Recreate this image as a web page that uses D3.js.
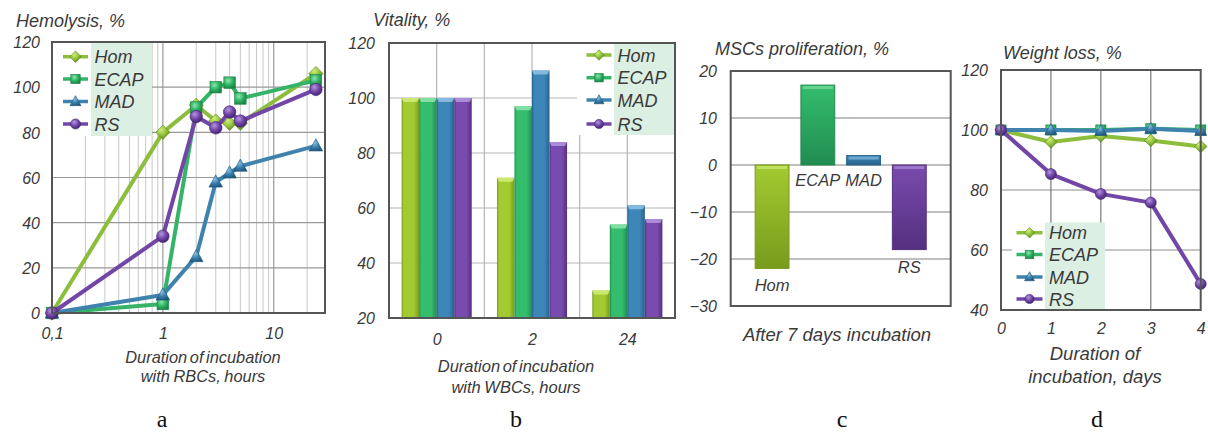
<!DOCTYPE html>
<html><head><meta charset="utf-8">
<script src="https://cdn.jsdelivr.net/npm/d3@7"></script>
<style>
body{margin:0;background:#fff;}
svg{display:block;font-family:"Liberation Sans",Arial,sans-serif;}
</style></head><body>
<svg id="c" width="1208" height="434"></svg>
<script>
// ---------- data ----------
const groups = ["Hom","ECAP","MAD","RS"];
const shapes = ["diamond","square","triangle","circle"];

const hemoHours = [0.1,1,2,3,4,5,24];
const hemoHom  = [0,80,92,85,84,84,106];
const hemoECAP = [0,4,91,100,102,95,103];
const hemoMAD  = [0,8,25,58,62,65,74];
const hemoRS   = [0,34,87,82,89,85,99];
const hemoTicks = [0.1,1,10];
const hemoTickLabels = ["0,1","1","10"];
const hemoYTicks = [0,20,40,60,80,100,120];

const vitCats = ["0","2","24"];
const vitHom  = [100,71,30];
const vitECAP = [100,97,54];
const vitMAD  = [100,110,61];
const vitRS   = [100,84,56];
const vitYTicks = [20,40,60,80,100,120];

const mscValues = [-22,17,2,-18];
const mscYTicks = [-30,-20,-10,0,10,20];

const wlDays = [0,1,2,3,4];
const wlHom  = [100,96,98,96.5,94.5];
const wlECAP = [100,100,100,100.4,100];
const wlMAD  = [100,100,99.7,100.4,99.7];
const wlRS   = [100,85.3,78.7,75.8,48.7];
const wlYTicks = [40,60,80,100,120];

// ---------- styles ----------
const col = {
  Hom:  {line:"#8cbd3c", base:"#8fc23a", light:"#d2ee7c", dark:"#5d8a1c", bar:"#a3cb31", barDark:"#789b1c"},
  ECAP: {line:"#35b468", base:"#2fb464", light:"#8ee6ad", dark:"#1c8446", bar:"#34bd6d", barDark:"#218c50"},
  MAD:  {line:"#3e82ad", base:"#3a80ae", light:"#8fc3e6", dark:"#22577c", bar:"#3c87b8", barDark:"#28628c"},
  RS:   {line:"#7146a6", base:"#6f45a5", light:"#b495e0", dark:"#452471", bar:"#7a4bae", barDark:"#54307f"}
};
const textCol = "#3a3a3a";
const legendBg = "#dcefe3";

const svg = d3.select("#c");
svg.append("rect").attr("width",1208).attr("height",434).attr("fill","#fff");
const defs = svg.append("defs");
groups.forEach(g=>{
  const c = col[g];
  const rg = defs.append("radialGradient").attr("id","m"+g).attr("cx","38%").attr("cy","32%").attr("r","70%");
  rg.append("stop").attr("offset","0%").attr("stop-color",c.light);
  rg.append("stop").attr("offset","55%").attr("stop-color",c.base);
  rg.append("stop").attr("offset","100%").attr("stop-color",c.dark);
  const lg = defs.append("linearGradient").attr("id","b"+g).attr("x1","0").attr("x2","1").attr("y1","0").attr("y2","0");
  lg.append("stop").attr("offset","0%").attr("stop-color",c.barDark);
  lg.append("stop").attr("offset","12%").attr("stop-color",c.bar);
  lg.append("stop").attr("offset","70%").attr("stop-color",c.bar);
  lg.append("stop").attr("offset","100%").attr("stop-color",c.barDark);
  const vg = defs.append("linearGradient").attr("id","v"+g).attr("x1","0").attr("x2","0").attr("y1","0").attr("y2","1");
  vg.append("stop").attr("offset","0%").attr("stop-color",c.bar);
  vg.append("stop").attr("offset","100%").attr("stop-color",c.barDark);
});

function marker(sel, shape, cx, cy, s, g){
  const c = col[g];
  let el;
  if(shape==="diamond"){
    el = sel.append("path").attr("d",`M${cx},${cy-s*1.05}L${cx+s*1.05},${cy}L${cx},${cy+s*1.05}L${cx-s*1.05},${cy}Z`);
  } else if(shape==="square"){
    el = sel.append("rect").attr("x",cx-s*0.85).attr("y",cy-s*0.85).attr("width",s*1.7).attr("height",s*1.7);
  } else if(shape==="triangle"){
    el = sel.append("path").attr("d",`M${cx},${cy-s*1.05}L${cx+s},${cy+s*0.75}L${cx-s},${cy+s*0.75}Z`);
  } else {
    el = sel.append("circle").attr("cx",cx).attr("cy",cy).attr("r",s*0.92);
  }
  el.attr("fill",`url(#m${g})`).attr("stroke",c.dark).attr("stroke-width",0.6);
}

function yAxis(scale, ticks, xRight, fs){
  const g = svg.append("g").attr("transform",`translate(${xRight},0)`)
    .call(d3.axisLeft(scale).tickValues(ticks).tickSize(0).tickPadding(0));
  g.select(".domain").remove();
  g.selectAll("text").attr("font-size",fs).attr("font-style","italic").attr("fill",textCol)
    .attr("font-family","Liberation Sans, Arial, sans-serif");
  return g;
}
function xAxis(scale, ticks, labels, yBase, fs){
  const g = svg.append("g").attr("transform",`translate(0,${yBase})`)
    .call(d3.axisBottom(scale).tickValues(ticks).tickSize(0).tickPadding(0)
      .tickFormat((d,i)=>labels?labels[i]:d));
  g.select(".domain").remove();
  g.selectAll("text").attr("font-size",fs).attr("font-style","italic").attr("fill",textCol)
    .attr("dy","0").attr("font-family","Liberation Sans, Arial, sans-serif");
  return g;
}
function txt(x,y,s,fs,anchor,opts={}){
  const t = svg.append("text").attr("x",x).attr("y",y).text(s).attr("font-size",fs)
    .attr("text-anchor",anchor||"start").attr("fill",opts.fill||textCol);
  if(!opts.serif) t.attr("font-style","italic"); else t.attr("font-family","Liberation Serif, Times New Roman, serif").attr("fill","#111");
  if(opts.ws!==undefined) t.attr("word-spacing",opts.ws);
  return t;
}
function legend(x0, x1, yTop, yBot, symX0, symX1, textX, ys, ms, fs, whiteFrom){
  if(whiteFrom!==undefined) svg.append("rect").attr("x",whiteFrom).attr("y",yTop).attr("width",x0-whiteFrom).attr("height",yBot-yTop).attr("fill","#fff");
  svg.append("rect").attr("x",x0).attr("y",yTop).attr("width",x1-x0).attr("height",yBot-yTop).attr("fill",legendBg);
  const lg = svg.append("g");
  groups.forEach((g,i)=>{
    lg.append("line").attr("x1",symX0).attr("x2",symX1).attr("y1",ys[i]).attr("y2",ys[i])
      .attr("stroke",col[g].line).attr("stroke-width",3.5);
    marker(lg, shapes[i], (symX0+symX1)/2, ys[i], ms, g);
    txt(textX, ys[i]+6.5, g, fs, "start");
  });
}

// ================= Panel a =================
{
  const L=52,R=325,T=42,B=313;
  const x = d3.scaleLog().domain([0.1,29]).range([L,R]);
  const y = d3.scaleLinear().domain([0,120]).range([B,T]);
  const gg = svg.append("g");
  const minors = [0.2,0.3,0.4,0.5,0.6,0.7,0.8,0.9,2,3,4,5,6,7,8,9,20];
  gg.selectAll(".mn").data(minors).join("line").attr("x1",d=>x(d)).attr("x2",d=>x(d)).attr("y1",T).attr("y2",B)
    .attr("stroke","#c8c8c8").attr("stroke-width",1);
  gg.selectAll(".mj").data([1,10]).join("line").attr("x1",d=>x(d)).attr("x2",d=>x(d)).attr("y1",T).attr("y2",B)
    .attr("stroke","#999").attr("stroke-width",1.2);
  gg.selectAll(".hz").data([20,40,60,80,100]).join("line").attr("x1",L).attr("x2",R).attr("y1",d=>y(d)).attr("y2",d=>y(d))
    .attr("stroke","#999").attr("stroke-width",1.2);
  legend(91,152,T,136,63,88,94.5,[56.7,79,101.5,124],5.5,18,L);
  const series = [hemoHom,hemoECAP,hemoMAD,hemoRS];
  const line = d3.line().x(d=>x(d[0])).y(d=>y(d[1]));
  series.forEach((s,i)=>{
    const g = groups[i];
    const pts = hemoHours.map((h,j)=>[h,s[j]]);
    svg.append("path").attr("d",line(pts)).attr("fill","none").attr("stroke",col[g].line)
      .attr("stroke-width",4).attr("stroke-linejoin","round");
    const mg = svg.append("g");
    pts.forEach(p=>marker(mg, shapes[i], x(p[0]), y(p[1]), 6.8, g));
  });
  svg.append("rect").attr("x",L).attr("y",T).attr("width",R-L).attr("height",B-T).attr("fill","none")
    .attr("stroke","#555").attr("stroke-width",2);
  yAxis(y, hemoYTicks, 40, 16).selectAll("text").attr("dy","0.36em");
  xAxis(x, hemoTicks, hemoTickLabels, 339, 16);
  txt(16,27,"Hemolysis, %",18,"start");
  txt(203,363,"Duration of incubation",16.4,"middle",{ws:-2});
  txt(203,382,"with RBCs, hours",16.4,"middle",{ws:-1});
  txt(162,427,"a",24,"middle",{serif:true});
}

// ================= Panel b =================
{
  const L=389,R=675,T=43,B=318;
  const x0 = d3.scaleBand().domain(vitCats).range([L,R]);
  const x1 = d3.scaleBand().domain(groups).range([0,x0.bandwidth()]).paddingOuter(0.72);
  const y = d3.scaleLinear().domain([20,120]).range([B,T]);
  const vx = [];
  vitCats.forEach(c=>{vx.push(x0(c)+x0.bandwidth()/2); vx.push(x0(c)+x0.bandwidth());});
  svg.selectAll(".bv").data(vx).join("line").attr("x1",d=>d).attr("x2",d=>d).attr("y1",T).attr("y2",B)
    .attr("stroke","#b5b5b5").attr("stroke-width",1.2);
  svg.selectAll(".bh").data([40,60,80,100]).join("line").attr("x1",L).attr("x2",R).attr("y1",d=>y(d)).attr("y2",d=>y(d))
    .attr("stroke","#b5b5b5").attr("stroke-width",1.2);
  const series = [vitHom,vitECAP,vitMAD,vitRS];
  series.forEach((s,i)=>{
    const g = groups[i];
    vitCats.forEach((c,j)=>{
      const bx = x0(c)+x1(g), bw = x1.bandwidth(), top = y(s[j]);
      svg.append("rect").attr("x",bx).attr("y",top).attr("width",bw).attr("height",B-top)
        .attr("fill",`url(#b${g})`);
      svg.append("path").attr("d",`M${bx},${top}L${bx+bw},${top}L${bx+bw-2},${top+4}L${bx+2},${top+4}Z`)
        .attr("fill",col[g].light).attr("opacity",0.85);
    });
  });
  legend(614,675,T,135,586.5,611.5,617.5,[55,77.7,100,124],5,18,577);
  svg.append("rect").attr("x",L).attr("y",T).attr("width",R-L).attr("height",B-T).attr("fill","none")
    .attr("stroke","#555").attr("stroke-width",2);
  yAxis(y, vitYTicks, 375, 16).selectAll("text").attr("dy","0.36em");
  const xc = d3.scalePoint().domain(vitCats).range([x0("0")+x0.bandwidth()/2, x0("24")+x0.bandwidth()/2]);
  xAxis(xc, vitCats, null, 345, 16);
  txt(373,26,"Vitality, %",18,"start");
  txt(516,372,"Duration of incubation",16.5,"middle",{ws:-2});
  txt(516,393,"with WBCs, hours",16.5,"middle",{ws:-1});
  txt(516,427,"b",24,"middle",{serif:true});
}

// ================= Panel c =================
{
  const L=730.7,R=950.7,T=71,B=306;
  const x = d3.scaleBand().domain(groups).range([L,R]).paddingInner(0.26).paddingOuter(0.535);
  const y = d3.scaleLinear().domain([-30,20]).range([B,T]);
  svg.selectAll(".ch").data([-20,-10,0,10]).join("line").attr("x1",L).attr("x2",R).attr("y1",d=>y(d)).attr("y2",d=>y(d))
    .attr("stroke","#aaa").attr("stroke-width",1.3);
  groups.forEach((g,i)=>{
    const v = mscValues[i];
    const y0 = y(Math.max(0,v)), y1 = y(Math.min(0,v));
    svg.append("rect").attr("x",x(g)).attr("y",y0).attr("width",x.bandwidth()).attr("height",y1-y0)
      .attr("fill",`url(#v${g})`).attr("stroke",col[g].barDark).attr("stroke-width",1);
    svg.append("rect").attr("x",x(g)+2).attr("y",y0+1).attr("width",x.bandwidth()-4).attr("height",3)
      .attr("fill",col[g].light).attr("opacity",0.6);
  });
  svg.append("rect").attr("x",L).attr("y",T).attr("width",R-L).attr("height",B-T).attr("fill","none")
    .attr("stroke","#555").attr("stroke-width",2);
  yAxis(y, mscYTicks, 717, 16).selectAll("text").attr("dy","0.36em");
  groups.forEach((g,i)=>{
    const v = mscValues[i];
    const cx = x(g)+x.bandwidth()/2;
    const ly = v>=0 ? y(0)+21 : y(v)+23;
    txt(cx, ly, g, 16.5, "middle");
  });
  txt(715,55,"MSCs proliferation, %",18,"start");
  txt(837,341,"After 7 days incubation",18.5,"middle");
  txt(842,427,"c",24,"middle",{serif:true});
}

// ================= Panel d =================
{
  const L=1001,R=1200.7,T=70,B=310;
  const x = d3.scaleLinear().domain([0,4]).range([L,R]);
  const y = d3.scaleLinear().domain([40,120]).range([B,T]);
  svg.selectAll(".dh").data([60,80,100]).join("line").attr("x1",L).attr("x2",R).attr("y1",d=>y(d)).attr("y2",d=>y(d))
    .attr("stroke","#b5b5b5").attr("stroke-width",1.3);
  svg.selectAll(".dv").data([1,2,3]).join("line").attr("x1",d=>x(d)).attr("x2",d=>x(d)).attr("y1",T).attr("y2",B)
    .attr("stroke","#777").attr("stroke-width",1.2);
  legend(1045,1105,222.5,B,1016.5,1042.5,1049,[232.7,254.5,277,299],5,18,1012);
  const series = [wlHom,wlECAP,wlMAD,wlRS];
  const line = d3.line().x(d=>x(d[0])).y(d=>y(d[1]));
  series.forEach((s,i)=>{
    const g = groups[i];
    const pts = wlDays.map((d,j)=>[d,s[j]]);
    svg.append("path").attr("d",line(pts)).attr("fill","none").attr("stroke",col[g].line)
      .attr("stroke-width",4).attr("stroke-linejoin","round");
    const mg = svg.append("g");
    pts.forEach(p=>marker(mg, shapes[i], x(p[0]), y(p[1]), 6, g));
  });
  svg.append("rect").attr("x",L).attr("y",T).attr("width",R-L).attr("height",B-T).attr("fill","none")
    .attr("stroke","#555").attr("stroke-width",2);
  yAxis(y, wlYTicks, 988, 16).selectAll("text").attr("dy","0.36em");
  xAxis(x, wlDays, null, 334, 16);
  txt(1003,59,"Weight loss, %",18,"start");
  txt(1095,360,"Duration of",18.5,"middle");
  txt(1095,383,"incubation, days",18.5,"middle");
  txt(1097,427,"d",24,"middle",{serif:true});
}
</script>
</body></html>
